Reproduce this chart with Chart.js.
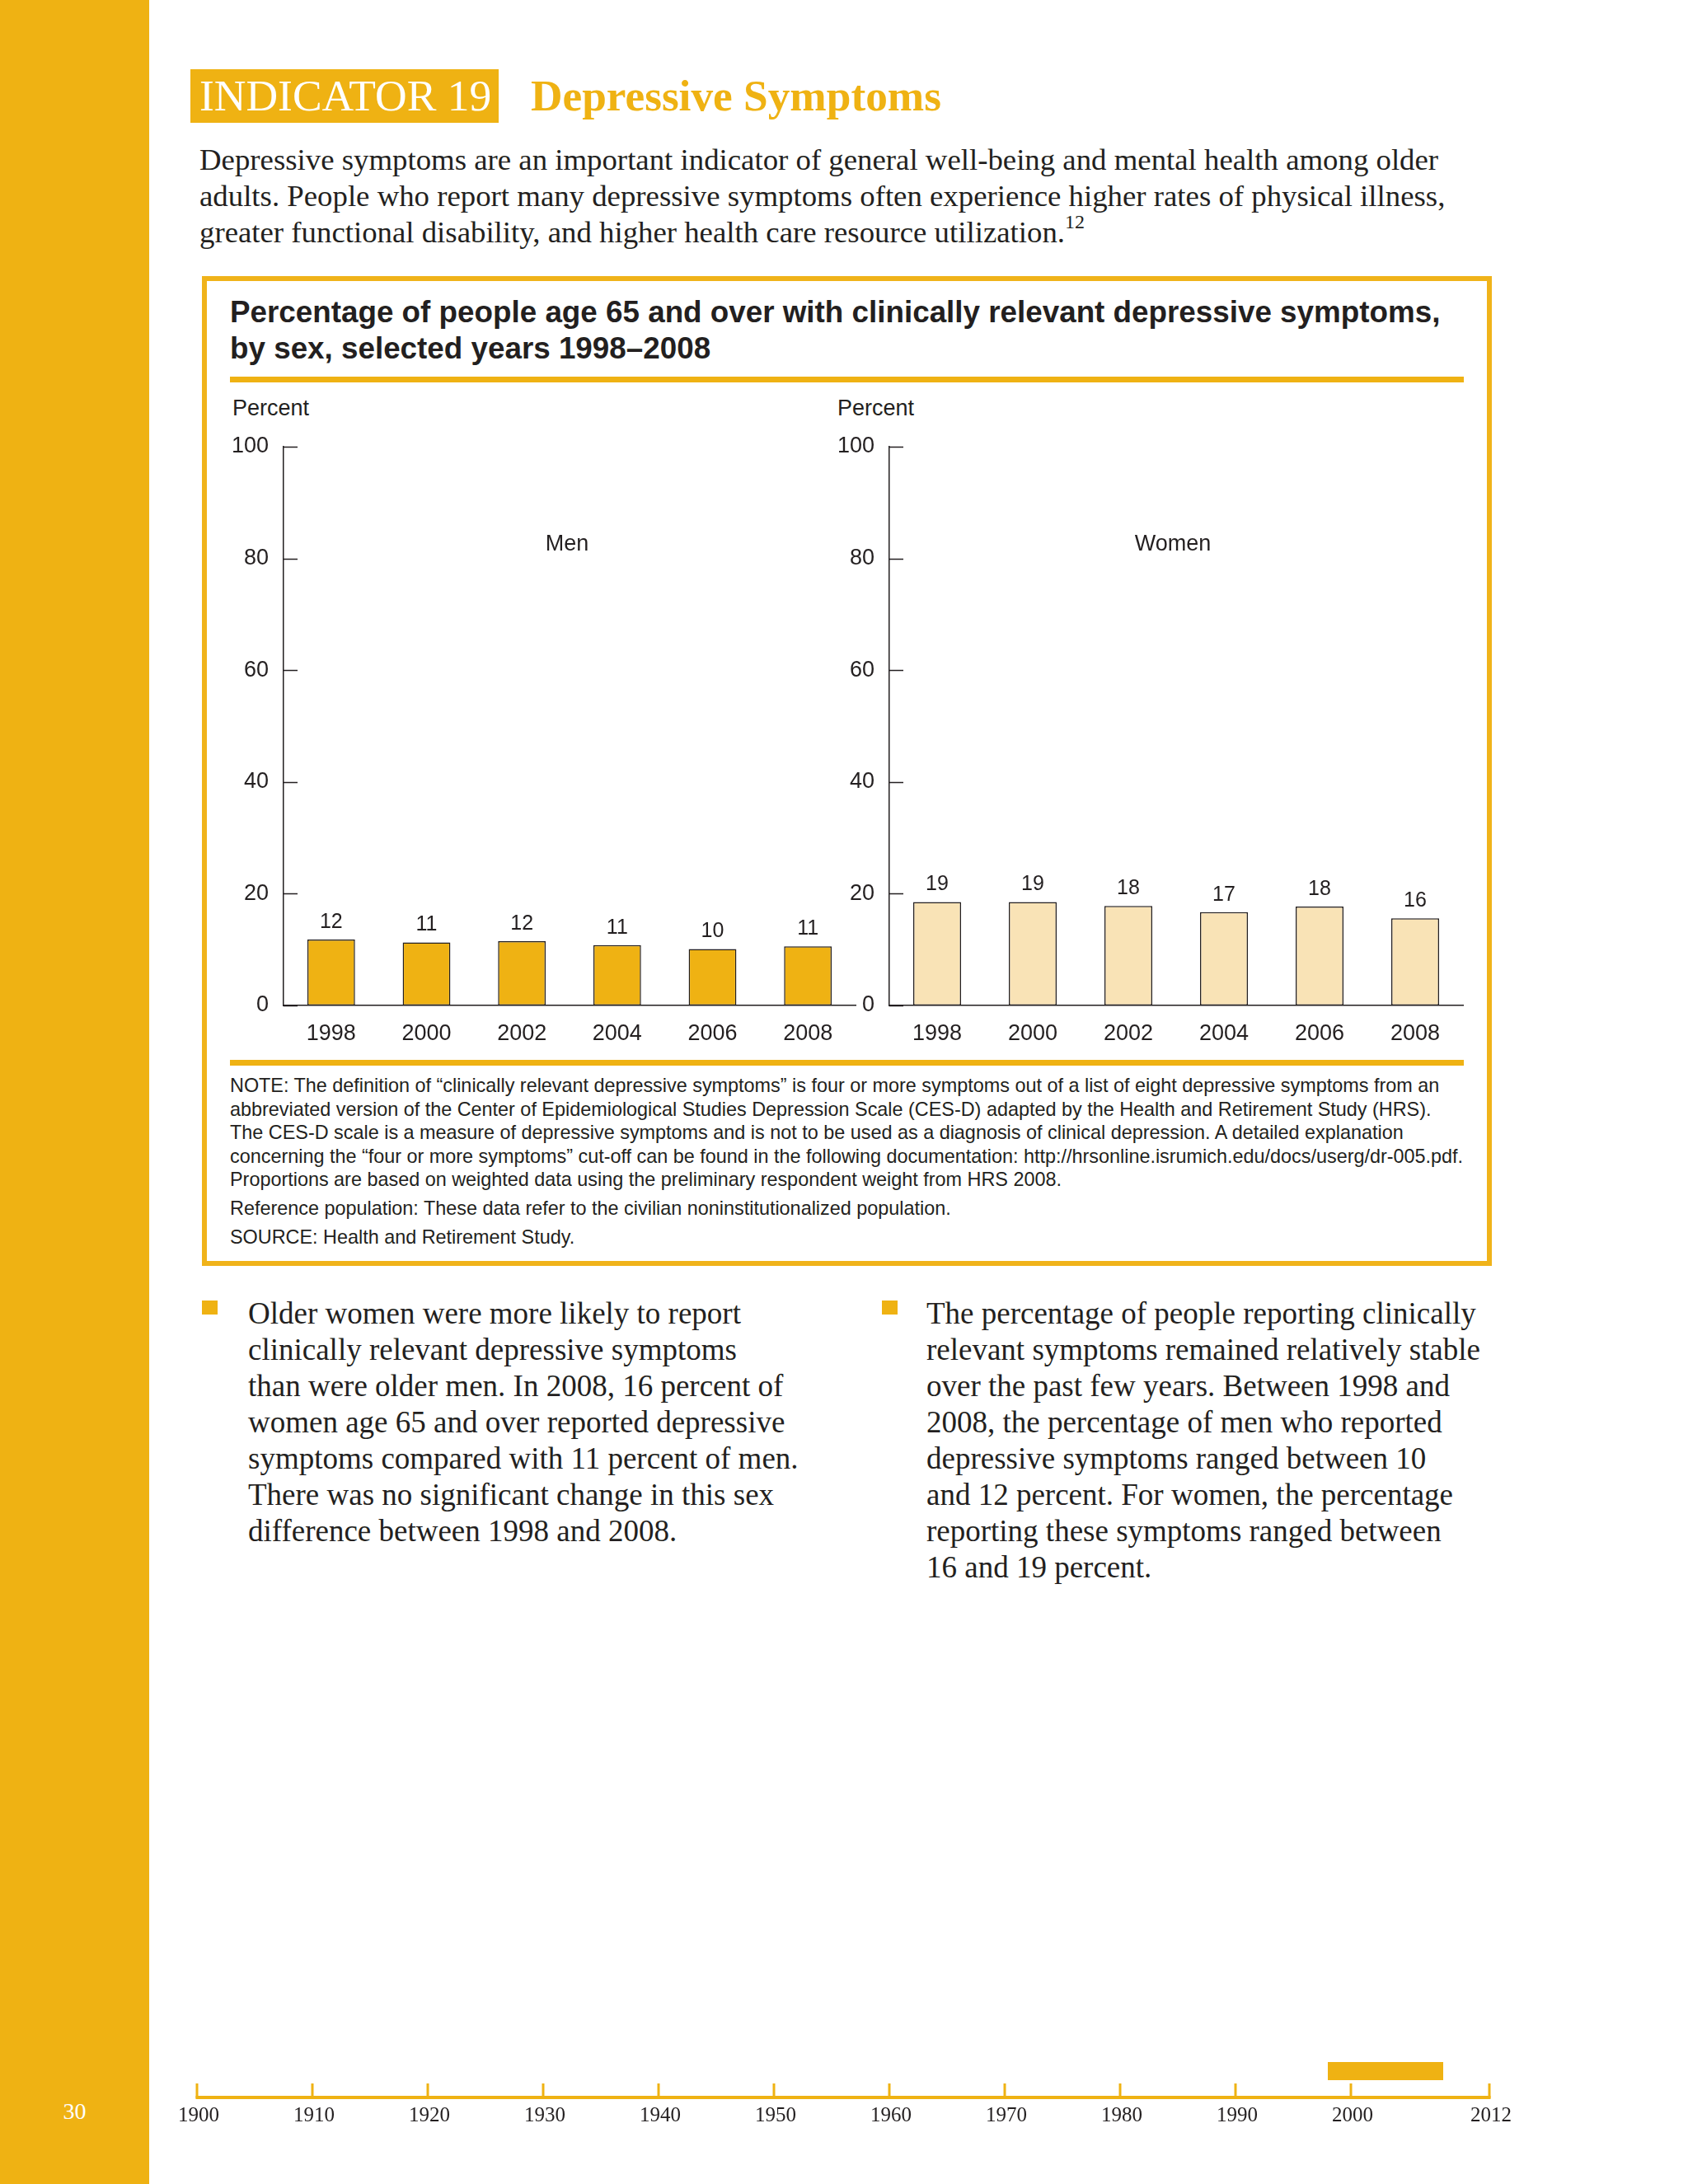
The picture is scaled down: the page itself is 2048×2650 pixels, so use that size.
<!DOCTYPE html>
<html>
<head>
<meta charset="utf-8">
<script src="https://cdn.jsdelivr.net/npm/chart.js@4.4.0/dist/chart.umd.min.js"></script>
<style>
  html, body { margin: 0; padding: 0; background: #fff; }
  body { width: 2048px; height: 2650px; position: relative; overflow: hidden; color: #231f20; }
  .abs { position: absolute; }
  .serif { font-family: 'Liberation Serif', 'Times New Roman', serif; }
  .sans { font-family: 'Liberation Sans', Arial, sans-serif; }
  #sidebar { left: 0; top: 0; width: 181px; height: 2650px; background: #efb213; }
  #pageNo { left: 0; width: 181px; top: 2544px; text-align: center; color: #fff; font-size: 28px; line-height: 36px; }
  #indicator { left: 231px; top: 84px; width: 374px; height: 65px; background: #efb213; color: #fff;
               font-size: 53.5px; line-height: 65px; padding-left: 11px; box-sizing: border-box; white-space: nowrap; }
  #heading { left: 644px; top: 84px; line-height: 65px; font-size: 53.3px; font-weight: bold; color: #efb213; white-space: nowrap; }
  #intro { left: 242px; top: 172px; font-size: 36.8px; line-height: 44px; white-space: nowrap; }
  #intro sup { font-size: 24px; line-height: 0; position: relative; top: -4px; }
  #box { left: 245px; top: 335px; width: 1565px; height: 1201px; border: 6px solid #f0b31a; box-sizing: border-box; }
  #chartTitle { left: 279px; top: 357px; font-size: 36.8px; line-height: 44px; font-weight: bold; white-space: nowrap; }
  .rule { left: 279px; width: 1497px; height: 7px; background: #efb213; }
  .unit { top: 480px; font-size: 27px; line-height: 30px; }
  #notes { left: 279px; top: 1303px; font-size: 23.4px; line-height: 28.6px; white-space: nowrap; }
  #notes p { margin: 0 0 6px 0; }
  .bullet { width: 19px; height: 17px; background: #efb213; top: 1578px; }
  .point { top: 1572px; font-size: 37px; line-height: 44px; white-space: nowrap; }
</style>
</head>
<body>
<div id="sidebar" class="abs"></div>
<div id="pageNo" class="abs serif">30</div>

<div id="indicator" class="abs serif">INDICATOR 19</div>
<div id="heading" class="abs serif">Depressive Symptoms</div>
<div id="intro" class="abs serif">
Depressive symptoms are an important indicator of general well-being and mental health among older<br>
adults. People who report many depressive symptoms often experience higher rates of physical illness,<br>
greater functional disability, and higher health care resource utilization.<sup>12</sup>
</div>

<div id="box" class="abs"></div>
<div id="chartTitle" class="abs sans">
Percentage of people age 65 and over with clinically relevant depressive symptoms,<br>
by sex, selected years 1998–2008
</div>
<div class="abs rule" style="top:457px"></div>
<div class="abs unit sans" style="left:282px">Percent</div>
<div class="abs unit sans" style="left:1016px">Percent</div>

<canvas id="menChart" class="abs" width="820" height="820" style="left:250px; top:470px"></canvas>
<canvas id="womenChart" class="abs" width="800" height="820" style="left:1000px; top:470px"></canvas>

<div class="abs rule" style="top:1286px"></div>
<div id="notes" class="abs sans">
<p>NOTE: The definition of “clinically relevant depressive symptoms” is four or more symptoms out of a list of eight depressive symptoms from an<br>
abbreviated version of the Center of Epidemiological Studies Depression Scale (CES-D) adapted by the Health and Retirement Study (HRS).<br>
The CES-D scale is a measure of depressive symptoms and is not to be used as a diagnosis of clinical depression. A detailed explanation<br>
concerning the “four or more symptoms” cut-off can be found in the following documentation: http://hrsonline.isrumich.edu/docs/userg/dr-005.pdf.<br>
Proportions are based on weighted data using the preliminary respondent weight from HRS 2008.</p>
<p>Reference population: These data refer to the civilian noninstitutionalized population.</p>
<p>SOURCE: Health and Retirement Study.</p>
</div>

<div class="abs bullet" style="left:245px"></div>
<div class="abs point serif" style="left:301px">
Older women were more likely to report<br>
clinically relevant depressive symptoms<br>
than were older men. In 2008, 16 percent of<br>
women age 65 and over reported depressive<br>
symptoms compared with 11 percent of men.<br>
There was no significant change in this sex<br>
difference between 1998 and 2008.
</div>
<div class="abs bullet" style="left:1070px"></div>
<div class="abs point serif" style="left:1124px">
The percentage of people reporting clinically<br>
relevant symptoms remained relatively stable<br>
over the past few years. Between 1998 and<br>
2008, the percentage of men who reported<br>
depressive symptoms ranged between 10<br>
and 12 percent. For women, the percentage<br>
reporting these symptoms ranged between<br>
16 and 19 percent.
</div>

<canvas id="timeline" class="abs" width="1650" height="120" style="left:200px; top:2480px"></canvas>

<script>
// Datos
const years = ['1998', '2000', '2002', '2004', '2006', '2008'];
const menValues = [11.8, 11.3, 11.5, 10.8, 10.1, 10.6];
const womenValues = [18.5, 18.5, 17.8, 16.7, 17.7, 15.6];
const yTicks = [0, 20, 40, 60, 80, 100];

// Línea de tiempo del pie de página
const timelineYears = [1900, 1910, 1920, 1930, 1940, 1950, 1960, 1970, 1980, 1990, 2000, 2012];
const timelineSpan = [1998, 2008];

const GOLD = '#efb213';
const LIGHT_GOLD = '#f9e3b6';
const INK = '#231f20';
const SANS = "'Liberation Sans', Arial, sans-serif";

Chart.defaults.font.family = SANS;
Chart.defaults.color = INK;

// Marcas hacia dentro del eje Y, valores encima de las barras y nombre del panel
const panelExtras = {
    id: 'panelExtras',
    afterDatasetsDraw(chart, args, opts) {
        const ctx = chart.ctx;
        const yScale = chart.scales.y;
        const area = chart.chartArea;
        ctx.save();
        ctx.strokeStyle = INK;
        ctx.lineWidth = 1.5;
        yScale.ticks.forEach(t => {
            const py = Math.round(yScale.getPixelForValue(t.value)) + 0.5;
            ctx.beginPath();
            ctx.moveTo(area.left, py);
            ctx.lineTo(area.left + 17, py);
            ctx.stroke();
        });

        ctx.fillStyle = INK;
        ctx.textAlign = 'center';
        ctx.textBaseline = 'middle';
        ctx.font = '25px ' + SANS;
        const meta = chart.getDatasetMeta(0);
        meta.data.forEach((bar, i) => {
            const v = chart.data.datasets[0].data[i];
            ctx.fillText(String(Math.round(v)), bar.x, bar.y - 21);
        });

        ctx.font = '27px ' + SANS;
        ctx.fillText(opts.title, (area.left + area.right) / 2 + opts.shift, yScale.getPixelForValue(82.5));
        ctx.restore();
    }
};

// axisWidth: ancho reservado al eje Y; rightPad: espacio a la derecha del área
function makePanel(canvasId, title, values, color, axisWidth, rightPad, shift) {
    return new Chart(document.getElementById(canvasId), {
        type: 'bar',
        data: {
            labels: years,
            datasets: [{
                label: title,
                data: values,
                backgroundColor: color,
                borderColor: INK,
                borderWidth: 1.5,
                borderSkipped: false,
                barPercentage: 0.5,
                categoryPercentage: 1.0
            }]
        },
        options: {
            responsive: false,
            animation: false,
            layout: { padding: { top: 72, left: 0, right: rightPad, bottom: 0 } },
            scales: {
                x: {
                    grid: { display: false, drawTicks: false },
                    border: { display: true, color: INK, width: 1.5 },
                    ticks: { font: { size: 27 }, color: INK, padding: 18 },
                    afterFit: s => { s.height = 70; }
                },
                y: {
                    min: 0,
                    max: 100,
                    afterBuildTicks: s => { s.ticks = yTicks.map(v => ({ value: v })); },
                    grid: { display: false, drawTicks: false },
                    border: { display: true, color: INK, width: 1.5 },
                    ticks: { font: { size: 27 }, color: INK, padding: 18 },
                    afterFit: s => { s.width = axisWidth; }
                }
            },
            plugins: {
                legend: { display: false },
                tooltip: { enabled: false },
                panelExtras: { title: title, shift: shift }
            }
        },
        plugins: [panelExtras]
    });
}

makePanel('menChart', 'Men', menValues, GOLD, 94, 32, -3);
makePanel('womenChart', 'Women', womenValues, LIGHT_GOLD, 79, 25, -4);

// Línea de tiempo dibujada sobre una escala lineal de Chart.js
const timelineDraw = {
    id: 'timelineDraw',
    afterDraw(chart) {
        const ctx = chart.ctx;
        const xs = chart.scales.x;
        const first = xs.getPixelForValue(timelineYears[0]);
        const last = xs.getPixelForValue(timelineYears[timelineYears.length - 1]);
        ctx.save();
        ctx.fillStyle = GOLD;
        const x0 = xs.getPixelForValue(timelineSpan[0]);
        const x1 = xs.getPixelForValue(timelineSpan[1]);
        ctx.fillRect(x0, 22, x1 - x0, 22);

        ctx.strokeStyle = GOLD;
        ctx.lineWidth = 4;
        ctx.beginPath();
        ctx.moveTo(first - 1.5, 65);
        ctx.lineTo(last + 1.5, 65);
        ctx.stroke();
        ctx.lineWidth = 3;
        ctx.fillStyle = INK;
        ctx.font = "25px 'Liberation Serif', 'Times New Roman', serif";
        ctx.textAlign = 'center';
        ctx.textBaseline = 'middle';
        timelineYears.forEach(yr => {
            const px = xs.getPixelForValue(yr);
            ctx.beginPath();
            ctx.moveTo(px, 48);
            ctx.lineTo(px, 66);
            ctx.stroke();
            ctx.fillText(String(yr), px + 2, 87);
        });
        ctx.restore();
    }
};

new Chart(document.getElementById('timeline'), {
    type: 'scatter',
    data: { datasets: [{ data: [] }] },
    options: {
        responsive: false,
        animation: false,
        layout: { padding: { left: 39, right: 43, top: 0, bottom: 0 } },
        scales: {
            x: { type: 'linear', min: timelineYears[0], max: timelineYears[timelineYears.length - 1], display: false },
            y: { display: false }
        },
        plugins: { legend: { display: false }, tooltip: { enabled: false } }
    },
    plugins: [timelineDraw]
});
</script>
</body>
</html>
